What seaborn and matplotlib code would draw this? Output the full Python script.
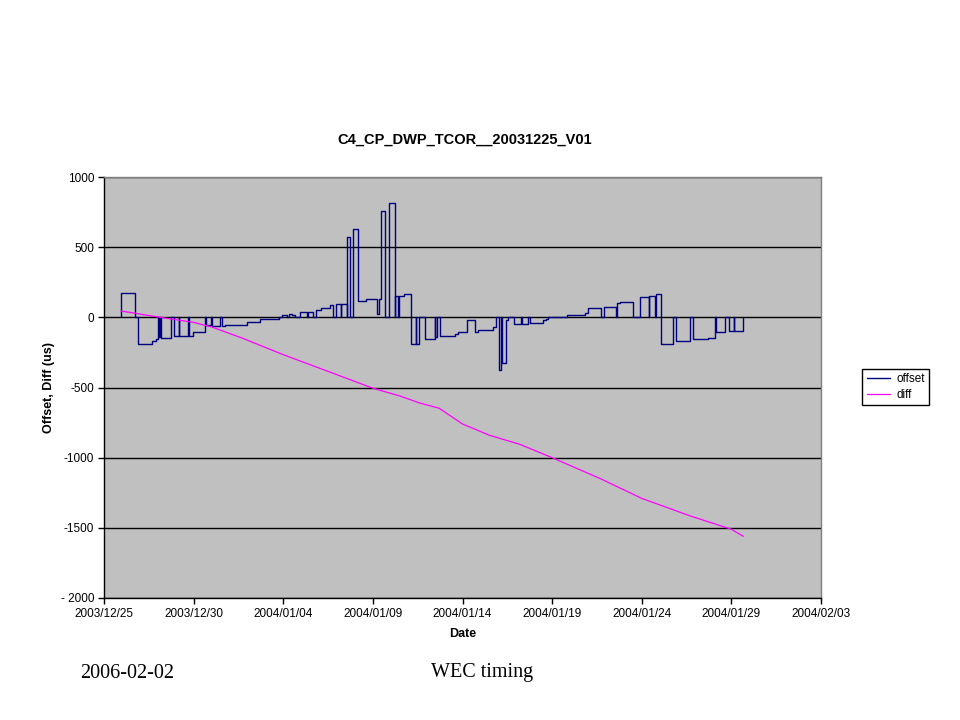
import numpy as np
import pandas as pd
import matplotlib
matplotlib.use("Agg")
import matplotlib.pyplot as plt
import matplotlib.dates as mdates
import seaborn as sns

# ---- data (days after 2003-12-25 00:00) ----
base_date = "2003-12-25"
# offset: blocks of constant value (start day, end day, value in us)
off_start = [0.95, 1.91, 2.66, 2.88, 3.07, 3.18, 3.92, 4.21, 4.76, 4.96, 5.69, 6.04, 6.60, 6.75, 7.96, 8.70,
             9.94, 10.32, 10.50, 10.93, 11.36, 11.82, 12.09, 12.60, 12.94, 13.22, 13.57, 13.90, 14.15, 14.60,
             15.24, 15.34, 15.47, 15.91, 16.26, 16.43, 16.73, 17.11, 17.43, 17.90, 18.49, 18.74, 19.58, 19.76,
             19.95, 20.23, 20.69, 20.88, 21.71, 22.03, 22.21, 22.40, 22.88, 23.30, 23.76, 24.47, 24.65,
             25.81, 26.83, 27.01, 27.89, 28.63, 28.78, 29.89, 30.43, 30.79, 31.10, 31.90, 32.87, 33.70,
             34.17, 34.88, 35.17]
off_end = [1.73, 2.66, 2.88, 3.03, 3.12, 3.74, 4.18, 4.70, 4.96, 5.63, 5.95, 6.47, 6.75, 7.96, 8.70, 9.76,
           10.22, 10.50, 10.65, 11.34, 11.67, 12.09, 12.60, 12.79, 13.20, 13.54, 13.72, 14.15, 14.60, 15.24,
           15.34, 15.47, 15.69, 16.21, 16.40, 16.73, 17.11, 17.40, 17.59, 18.46, 18.56, 19.58, 19.76, 19.95,
           20.23, 20.69, 20.88, 21.71, 21.85, 22.13, 22.40, 22.55, 23.26, 23.66, 24.47, 24.65, 24.78,
           26.83, 27.01, 27.70, 28.59, 28.78, 29.52, 30.41, 30.73, 31.10, 31.75, 32.68, 33.70, 34.08,
           34.64, 35.14, 35.66]
off_value = [170, -188, -171, -157, -140, -150, -135, -135, -135, -105, -57, -64, -64, -57, -33, -9,
             16, 23, 16, 35, 35, 50, 69, 86, 98, 98, 569, 633, 114, 133,
             26, 133, 755, 817, 150, 150, 169, -188, -188, -152, -140, -135, -121, -104,
             -104, -19, -104, -93, -69, -378, -323, -21, -45, -45, -38, -21, -10,
             14, 28, 69, 76, 100, 109, 145, 150, 169, -188, -171, -157, -145,
             -107, -100, -100]

# diff: smooth drift
diff_day = [0.95, 3.12, 4.96, 6.02, 7.75, 9.98, 12.6, 15.0, 16.5, 17.6, 18.7, 20.0, 21.5, 23.2, 25.0,
            27.7, 30.0, 32.7, 35.0, 35.66]
diff_value = [45, 0, -35, -69, -150, -265, -390, -505, -560, -610, -648, -760, -840, -905, -1000,
              -1150, -1290, -1415, -1510, -1560]

y_ticks = [-2000, -1500, -1000, -500, 0, 500, 1000]
y_tick_labels = ["- 2000", "-1500", "-1000", "-500", "0", "500", "1000"]
x_tick_days = [0, 5, 10, 15, 20, 25, 30, 35, 40]

# ---- build offset polyline (returns to zero between non-adjacent blocks) ----
px, py = [], []
n = len(off_start)
for i in range(n):
    s, e, v = off_start[i], off_end[i], off_value[i]
    if i == 0 or abs(s - off_end[i - 1]) > 1e-9:
        px += [s, s]
        py += [0, v]
    else:
        px += [s]
        py += [v]
    px += [e]
    py += [v]
    if i == n - 1 or abs(off_start[i + 1] - e) > 1e-9:
        px += [e]
        py += [0]

t0 = pd.Timestamp(base_date)
off_df = pd.DataFrame({"date": t0 + pd.to_timedelta(px, unit="D"), "value": py, "series": "offset"})
diff_df = pd.DataFrame({"date": t0 + pd.to_timedelta(diff_day, unit="D"), "value": diff_value, "series": "diff"})

sns.set_style("white")
plt.rcParams["font.family"] = ["Liberation Sans", "DejaVu Sans"]
for key in ["text.color", "axes.labelcolor", "xtick.color", "ytick.color"]:
    plt.rcParams[key] = "black"

fig = plt.figure(figsize=(9.6, 7.2), dpi=100)
ax = fig.add_axes([104 / 960, 1 - 598 / 720, (821 - 104) / 960, (598 - 177) / 720])
ax.set_facecolor("#C0C0C0")

sns.lineplot(data=off_df, x="date", y="value", sort=False, estimator=None, color="#000080",
             linewidth=1.0, ax=ax, label="offset")
sns.lineplot(data=diff_df, x="date", y="value", sort=False, estimator=None, color="#FF00FF",
             linewidth=0.9, ax=ax, label="diff")

ax.set_xlim(t0, t0 + pd.Timedelta(days=40))
ax.set_ylim(-2000, 1000)
ax.set_xticks([t0 + pd.Timedelta(days=d) for d in x_tick_days])
ax.xaxis.set_major_formatter(mdates.DateFormatter("%Y/%m/%d"))
ax.set_yticks(y_ticks)
ax.set_yticklabels(y_tick_labels)
ax.grid(axis="y", color="black", linewidth=1.0)
ax.grid(axis="x", visible=False)
ax.set_axisbelow(True)
ax.tick_params(axis="both", direction="out", length=4, width=1, color="black", labelsize=8.5, pad=3,
               left=True, bottom=True, labelcolor="black")
for side in ["left", "bottom"]:
    ax.spines[side].set_color("black")
    ax.spines[side].set_linewidth(1.0)
for side in ["top", "right"]:
    ax.spines[side].set_color("#808080")
    ax.spines[side].set_linewidth(1.0)

ax.set_xlabel("Date", fontsize=9, fontweight="bold", labelpad=6, color="black")
ax.set_ylabel("Offset, Diff (us)", fontsize=9, fontweight="bold", labelpad=4, color="black")

fig.text(465 / 960, 1 - 140 / 720, "C4_CP_DWP_TCOR__20031225_V01", ha="center", va="center",
         fontsize=10.5, fontweight="bold", color="black")

leg = ax.legend(loc="center left", bbox_to_anchor=(862 / 960, 1 - 387 / 720), bbox_transform=fig.transFigure,
                frameon=True, fontsize=8.5, handlelength=2.0, handletextpad=0.5, borderpad=0.4,
                labelspacing=0.3, borderaxespad=0, fancybox=False, edgecolor="black", framealpha=1)
leg.get_frame().set_linewidth(1.0)
for t in leg.get_texts():
    t.set_color("black")

fig.text(127 / 960, 1 - 673 / 720, "2006-02-02", ha="center", va="center", fontsize=14.5,
         family=["Liberation Serif", "DejaVu Serif"], color="black")
fig.text(482 / 960, 1 - 673 / 720, "WEC timing", ha="center", va="center", fontsize=14.5,
         family=["Liberation Serif", "DejaVu Serif"], color="black")

fig.savefig("out.png", dpi=100)
